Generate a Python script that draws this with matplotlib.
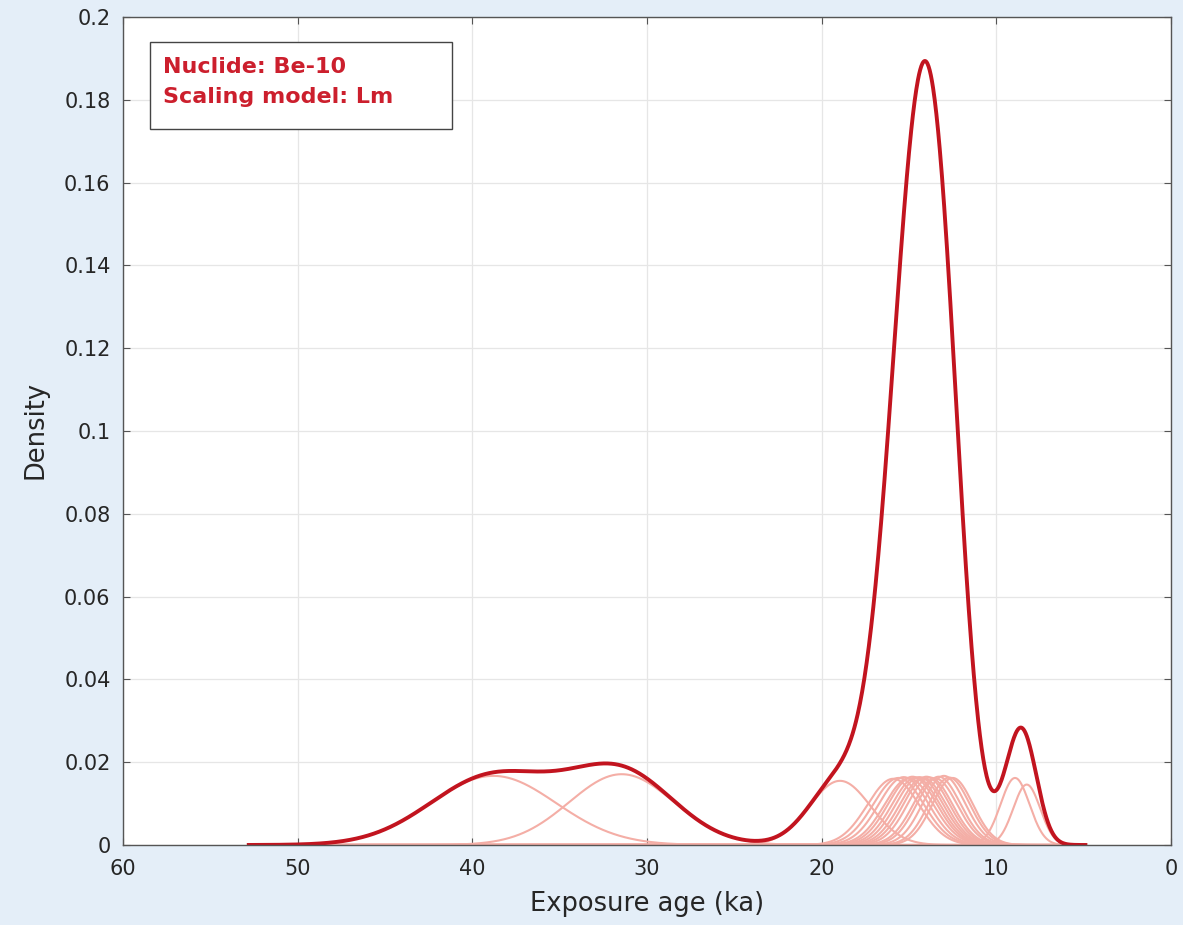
import numpy as np
import matplotlib
matplotlib.use("Agg")
import matplotlib.pyplot as plt
from matplotlib.patches import Rectangle

plt.rcParams["font.family"] = ["DejaVu Sans"]

# ---- data (individual exposure ages) ----
sample_ages_ka = [38.8, 31.45, 18.95,
                  15.9, 15.6, 15.3, 15.0, 14.8, 14.6, 14.4, 14.2, 14.0,
                  13.8, 13.5, 13.3, 13.0, 12.7, 12.5,
                  8.93, 8.26]
sample_sigmas_ka = [3.6, 3.0, 1.75,
                    1.48, 1.45, 1.42, 1.40, 1.38, 1.36, 1.34, 1.32, 1.30,
                    1.28, 1.26, 1.24, 1.21, 1.18, 1.16,
                    0.83, 0.77]
sample_peaks = [0.0167, 0.0171, 0.0155,
                0.0160, 0.0162, 0.0164, 0.0161, 0.0165, 0.0163, 0.0164, 0.0162, 0.0165,
                0.0163, 0.0161, 0.0165, 0.0167, 0.0163, 0.0162,
                0.0162, 0.0146]
age_range_ka = [52.8, 4.9]

x_ticks = [60, 50, 40, 30, 20, 10, 0]
y_ticks = [0, 0.02, 0.04, 0.06, 0.08, 0.1, 0.12, 0.14, 0.16, 0.18, 0.2]
y_ticklabels = ["0", "0.02", "0.04", "0.06", "0.08", "0.1", "0.12", "0.14", "0.16", "0.18", "0.2"]
info_lines = ["Nuclide: Be-10", "Scaling model: Lm"]

# ---- figure ----
W, H = 1183, 925
fig = plt.figure(figsize=(W / 100, H / 100), dpi=100)
fig.patch.set_facecolor("#E4EEF8")
ax = fig.add_axes([123 / W, (H - 845) / H, 1048 / W, 828 / H])
ax.set_facecolor("white")

t = np.linspace(age_range_ka[0], age_range_ka[1], 1500)
total = np.zeros_like(t)
light = "#F4AEA6"
for mu, sg, pk in zip(sample_ages_ka, sample_sigmas_ka, sample_peaks):
    curve = pk * np.exp(-0.5 * ((t - mu) / sg) ** 2)
    total += curve
    ax.plot(t, curve, color=light, lw=1.5, zorder=2, solid_capstyle="butt")

ax.plot(t, total, color="#C2141F", lw=2.8, zorder=3)

ax.set_xlim(60, 0)
ax.set_ylim(0, 0.2)
ax.set_xticks(x_ticks)
ax.set_xticklabels([str(v) for v in x_ticks])
ax.set_yticks(y_ticks)
ax.set_yticklabels(y_ticklabels)

ax.grid(True, color="#E6E6E6", lw=0.9, zorder=0)
ax.set_axisbelow(True)
for s in ax.spines.values():
    s.set_color("#555555")
    s.set_linewidth(1.0)
    s.set_zorder(4)

ax.tick_params(axis="both", direction="in", length=5, width=0.8, color="#555555",
               top=True, right=True, labelsize=15, labelcolor="#262626")
ax.tick_params(axis="x", pad=10)
ax.tick_params(axis="y", pad=9)

ax.set_xlabel("Exposure age (ka)", fontsize=18.5, color="#262626")
ax.set_ylabel("Density", fontsize=18.5, color="#262626")
ax.xaxis.set_label_coords(0.5, -0.055)
ax.yaxis.set_label_coords(-0.071, 0.501)

# info box
ax.add_patch(Rectangle((27 / 1048, (845 - 129) / 828), 302 / 1048, 87 / 828,
                       transform=ax.transAxes, facecolor="white", edgecolor="#444444",
                       lw=1.0, zorder=5))
ax.text(40 / 1048, (845 - 67) / 828, info_lines[0], transform=ax.transAxes,
        fontsize=16, fontweight="bold", color="#CC1F2D", va="center", ha="left", zorder=6)
ax.text(40 / 1048, (845 - 97) / 828, info_lines[1], transform=ax.transAxes,
        fontsize=16, fontweight="bold", color="#CC1F2D", va="center", ha="left", zorder=6)

fig.savefig("out.png", dpi=100, facecolor=fig.get_facecolor())
